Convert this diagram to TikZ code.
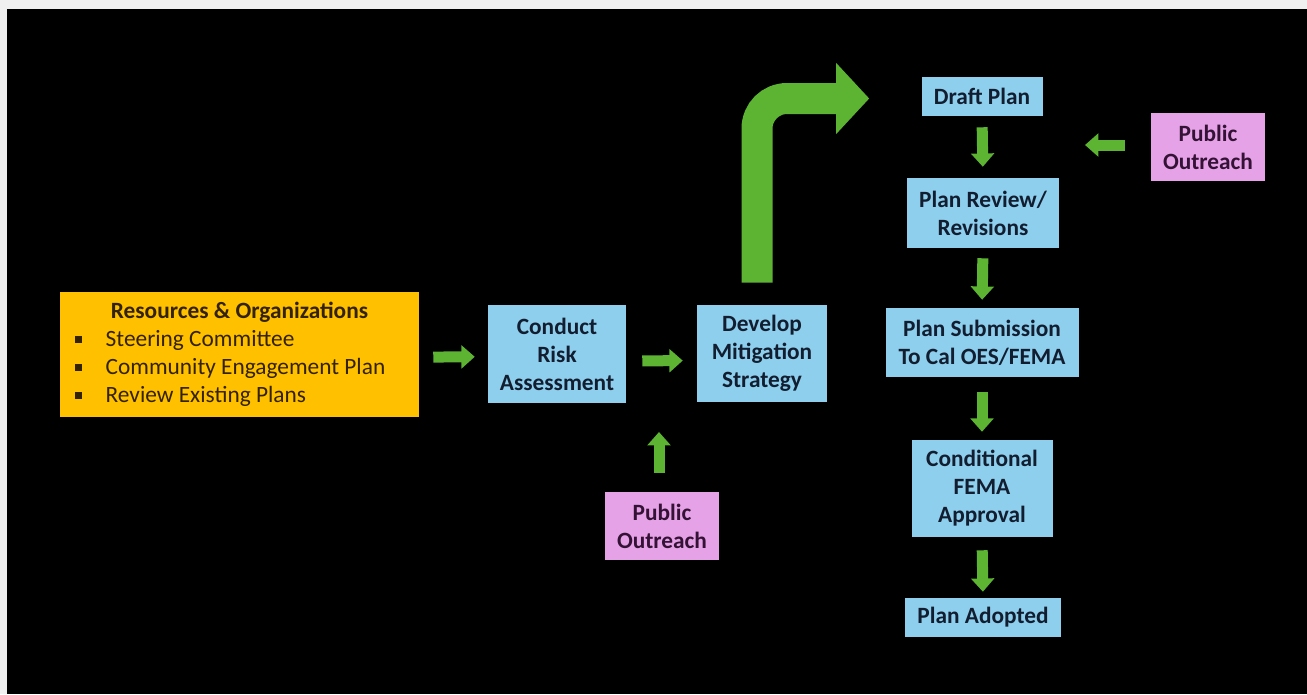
\documentclass[tikz,border=0pt]{standalone}
\usepackage{fontspec}
\setmainfont{Carlito}
\usetikzlibrary{arrows.meta}
\definecolor{boxblue}{RGB}{142,207,238}
\definecolor{boxyellow}{RGB}{255,192,0}
\definecolor{boxpink}{RGB}{230,162,230}
\definecolor{arrowgreen}{RGB}{92,180,50}
\definecolor{bluetext}{RGB}{18,30,48}
\definecolor{pinktext}{RGB}{52,18,54}
\definecolor{yellowtext}{RGB}{50,34,0}
\definecolor{margin}{RGB}{240,240,240}
\newcommand{\resbullet}{\rule[2.5pt]{5pt}{5pt}}

\begin{document}
\begin{tikzpicture}[x=0.75pt, y=-0.75pt,
  every node/.style={font=\fontsize{17.5}{21}\selectfont, align=center, inner sep=0pt},
  bluebox/.style={fill=boxblue, text=bluetext, font=\fontsize{17.5}{21}\selectfont\bfseries},
  pinkbox/.style={fill=boxpink, text=pinktext, font=\fontsize{17.5}{21}\selectfont\bfseries},
  resbox/.style={fill=boxyellow, text=yellowtext},
  flow/.style={draw=arrowgreen, line width=8.25pt, -{Triangle[length=10pt,width=17pt]}},
  bigflow/.style={draw=arrowgreen, line width=23.25pt, rounded corners=22.5pt, -{Triangle[length=24.75pt,width=51.75pt]}}]
\useasboundingbox (0,0) rectangle (1307,694);
\fill[margin] (0,0) rectangle (1307,694);
\fill[black] (7,9) rectangle (1307,694);

\node[resbox, minimum width=269.25pt, minimum height=93.75pt] (res) at (239.5,354.5) {%
  \begin{tabular}{@{}l@{\hspace{18pt}}l@{\hspace{14pt}}}
  \multicolumn{2}{@{}c@{}}{\bfseries Resources \& Organizations}\\
  \resbullet & Steering Committee\\
  \resbullet & Community Engagement Plan\\
  \resbullet & Review Existing Plans
  \end{tabular}};
\node[bluebox, minimum width=103.5pt, minimum height=73.5pt] (risk) at (557,354) {Conduct\\Risk\\Assessment};
\node[bluebox, minimum width=97.5pt, minimum height=72.75pt] (strat) at (762,353.5) {Develop\\Mitigation\\Strategy};
\node[pinkbox, minimum width=85.5pt, minimum height=51pt] (pubb) at (662,526) {Public\\Outreach};

\node[bluebox, minimum width=90.75pt, minimum height=29.25pt] (draft) at (982,96.5) {Draft Plan};
\node[bluebox, minimum width=114pt, minimum height=52.5pt] (review) at (983,213) {Plan Review/\\Revisions};
\node[pinkbox, minimum width=85.5pt, minimum height=51pt] (pubr) at (1208,147) {Public\\Outreach};
\node[bluebox, minimum width=144.75pt, minimum height=51.75pt] (submit) at (982,342.5) {Plan Submission\\To Cal OES/FEMA};
\node[bluebox, minimum width=105.75pt, minimum height=72.75pt] (cond) at (982,488.5) {Conditional\\FEMA\\Approval};
\node[bluebox, minimum width=117pt, minimum height=29.25pt] (adopt) at (983,617.5) {Plan Adopted};

\coordinate (bend) at (757,98.5);
\coordinate (risktip) at (659,432);
\coordinate (pubrtip) at (1085,145);

\draw[bigflow, shorten <=16.5pt, shorten >=39pt] (bend |- strat.north) -- (bend) -- (bend -| draft.west);
\draw[flow, shorten <=10.5pt, shorten >=9.75pt] ([yshift=-2pt]res.east) -- ([yshift=-2pt]risk.west);
\draw[flow, shorten <=12pt, shorten >=10.5pt] ([yshift=-5.25pt]risk.east) -- ([yshift=-5.25pt]strat.west);
\draw[flow, shorten <=14.25pt] (pubb.north -| risktip) -- (risktip);
\draw[flow, shorten <=8.25pt, shorten >=8.25pt] (draft.south) -- (review.north);
\draw[flow, shorten <=19.5pt] (pubr.west |- pubrtip) -- (pubrtip);
\draw[flow, shorten <=7.5pt, shorten >=6pt] (review.south) -- (submit.north);
\draw[flow, shorten <=11.25pt, shorten >=6pt] (submit.south) -- (cond.north);
\draw[flow, shorten <=9.75pt, shorten >=4.5pt] (cond.south) -- (adopt.north);
\end{tikzpicture}
\end{document}
